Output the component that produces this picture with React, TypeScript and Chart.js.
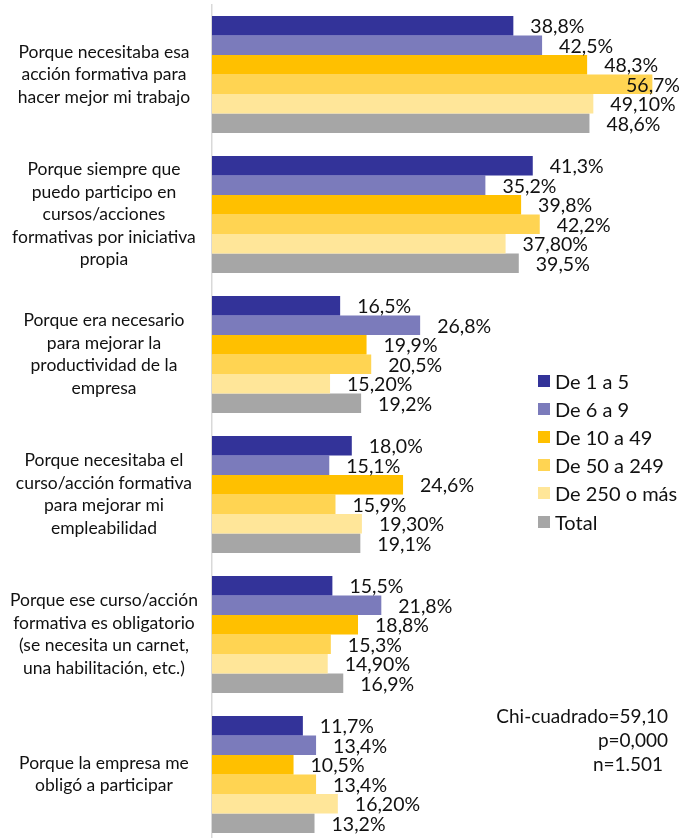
import React, { useEffect, useRef } from "react";
import { Chart, registerables } from "chart.js";

Chart.register(...registerables);

const categories: string[][] = [
  ["Porque necesitaba esa", "acción formativa para", "hacer mejor mi trabajo"],
  ["Porque siempre que", "puedo participo en", "cursos/acciones", "formativas por iniciativa", "propia"],
  ["Porque era necesario", "para mejorar la", "productividad de la", "empresa"],
  ["Porque necesitaba el", "curso/acción formativa", "para mejorar mi", "empleabilidad"],
  ["Porque ese curso/acción", "formativa es obligatorio", "(se necesita un carnet,", "una habilitación, etc.)"],
  ["Porque la empresa me", "obligó a participar"],
];

const seriesNames = ["De 1 a 5", "De 6 a 9", "De 10 a 49", "De 50 a 249", "De 250 o más", "Total"];

const de1a5 = [38.8, 41.3, 16.5, 18.0, 15.5, 11.7];
const de6a9 = [42.5, 35.2, 26.8, 15.1, 21.8, 13.4];
const de10a49 = [48.3, 39.8, 19.9, 24.6, 18.8, 10.5];
const de50a249 = [56.7, 42.2, 20.5, 15.9, 15.3, 13.4];
const de250oMas = [49.1, 37.8, 15.2, 19.3, 14.9, 16.2];
const total = [48.6, 39.5, 19.2, 19.1, 16.9, 13.2];

const seriesValues = [de1a5, de6a9, de10a49, de50a249, de250oMas, total];
const labelDecimals = [1, 1, 1, 1, 2, 1];
const seriesColors = ["#333399", "#7B7BBB", "#FFC000", "#FFD452", "#FFE699", "#A6A6A6"];

const statsLines = ["Chi-cuadrado=59,10", "p=0,000", "n=1.501\u00a0"];

const FONT = "Lato, 'Open Sans', sans-serif";
const TEXT_COLOR = "#111111";

const valueLabels = {
  id: "valueLabels",
  afterDatasetsDraw(chart: any) {
    const ctx = chart.ctx;
    ctx.save();
    ctx.font = `19.5px ${FONT}`;
    ctx.fillStyle = TEXT_COLOR;
    ctx.textBaseline = "middle";
    ctx.textAlign = "left";
    const rightLimit = chart.chartArea.right + 2;
    chart.data.datasets.forEach((ds: any, di: number) => {
      const meta = chart.getDatasetMeta(di);
      meta.data.forEach((el: any, i: number) => {
        const v = ds.data[i] as number;
        const text = v.toFixed(labelDecimals[di]).replace(".", ",") + "%";
        const w = ctx.measureText(text).width;
        let x = el.x + 17;
        if (x + w > rightLimit) x = rightLimit - w;
        ctx.fillText(text, x, el.y + 1);
      });
    });
    ctx.restore();
  },
};

export default function App() {
  const canvasRef = useRef<HTMLCanvasElement | null>(null);

  useEffect(() => {
    const canvas = canvasRef.current;
    if (!canvas) return;
    const chart = new Chart(canvas, {
      type: "bar",
      data: {
        labels: categories,
        datasets: seriesNames.map((name, i) => ({
          label: name,
          data: seriesValues[i],
          backgroundColor: seriesColors[i],
          borderWidth: 0,
          categoryPercentage: 0.836,
          barPercentage: 1.0,
        })),
      },
      options: {
        indexAxis: "y",
        animation: false,
        responsive: false,
        maintainAspectRatio: false,
        layout: { padding: { top: 4.5, bottom: 1.5, left: 0, right: 4 } },
        plugins: {
          legend: { display: false },
          tooltip: { enabled: false },
        },
        scales: {
          x: {
            display: false,
            min: 0,
            max: 60,
          },
          y: {
            grid: { display: false, drawTicks: false },
            border: { display: true, color: "#D9D9D9", width: 1.5 },
            afterFit: (scale: any) => {
              scale.width = 212;
              scale.paddingTop = 0;
              scale.paddingBottom = 0;
            },
            ticks: {
              autoSkip: false,
              crossAlign: "center",
              padding: 14,
              color: TEXT_COLOR,
              font: { family: FONT, size: 17.5, lineHeight: 1.29 },
            },
          },
        },
      },
      plugins: [valueLabels],
    });
    return () => chart.destroy();
  }, []);

  return (
    <div
      style={{
        position: "fixed",
        left: 0,
        top: 0,
        width: 682,
        height: 838,
        overflow: "hidden",
        background: "#fff",
        fontFamily: FONT,
      }}
    >
      <canvas ref={canvasRef} width={682} height={846} style={{ display: "block", width: 682, height: 846 }} />
      {seriesNames.map((name, i) => (
        <div
          key={name}
          style={{
            position: "absolute",
            left: 538,
            top: 380.5 + i * 28.2 - 14,
            height: 28,
            display: "flex",
            alignItems: "center",
            fontSize: 20,
            color: TEXT_COLOR,
            whiteSpace: "nowrap",
          }}
        >
          <span style={{ display: "inline-block", width: 12, height: 12, background: seriesColors[i], marginRight: 5 }} />
          <span>{name}</span>
        </div>
      ))}
      <div
        style={{
          position: "absolute",
          right: 682 - 668,
          top: 704,
          textAlign: "right",
          fontSize: 19,
          lineHeight: "24px",
          color: TEXT_COLOR,
          whiteSpace: "pre",
        }}
      >
        {statsLines.map((l) => (
          <div key={l}>{l}</div>
        ))}
      </div>
    </div>
  );
}
